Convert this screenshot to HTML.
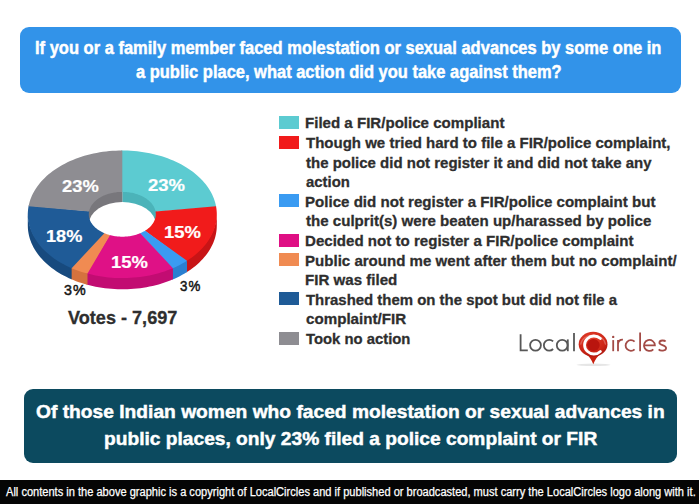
<!DOCTYPE html>
<html><head><meta charset="utf-8">
<style>
*{margin:0;padding:0;box-sizing:border-box}
html,body{width:699px;height:504px;overflow:hidden;background:#fff;font-family:"Liberation Sans",sans-serif}
.abs{position:absolute}
#hdr{position:absolute;left:20px;top:27.2px;width:661.3px;height:66px;background:#3293e9;border-radius:9px}
#ban{position:absolute;left:23.5px;top:388.5px;width:653.5px;height:74px;background:#0c4a5f;border-radius:9px}
#foot{position:absolute;left:0;top:480px;width:699px;height:24px;background:#050505}
.sw{position:absolute;left:278.5px;width:20.5px;height:13px}
.tx{position:absolute;white-space:nowrap;transform-origin:0 0}
.ht,.bt{-webkit-text-stroke:0.45px #fff}
.lg,.vt{-webkit-text-stroke:0.3px #2e2e2e}
.pl{-webkit-text-stroke:0.2px #fff}
.pd{-webkit-text-stroke:0.5px #151515;letter-spacing:1.2px}
.lo{-webkit-text-stroke:0px}
.ft{-webkit-text-stroke:0.25px #fff}
</style></head><body>
<div id="hdr"></div>
<svg class="abs" style="left:0;top:0" width="699" height="504" viewBox="0 0 699 504">
<path d="M216.80,212.80 L216.74,215.00 L216.57,217.20 L216.29,219.40 L215.90,221.59 L215.39,223.76 L214.78,225.93 L214.05,228.08 L213.21,230.21 L212.27,232.32 L211.22,234.40 L210.06,236.46 L208.80,238.50 L207.43,240.50 L205.96,242.47 L204.40,244.40 L202.73,246.29 L200.97,248.15 L199.11,249.96 L197.17,251.73 L195.13,253.45 L193.01,255.13 L190.80,256.75 L188.51,258.32 L186.14,259.84 L186.14,272.54 L188.51,271.02 L190.80,269.45 L193.01,267.83 L195.13,266.15 L197.17,264.43 L199.11,262.66 L200.97,260.85 L202.73,258.99 L204.40,257.10 L205.96,255.17 L207.43,253.20 L208.80,251.20 L210.06,249.16 L211.22,247.10 L212.27,245.02 L213.21,242.91 L214.05,240.78 L214.78,238.63 L215.39,236.46 L215.90,234.29 L216.29,232.10 L216.57,229.90 L216.74,227.70 L216.80,225.50Z" fill="#c81416"/>
<path d="M186.99,259.31 L184.65,260.74 L182.24,262.12 L179.76,263.45 L177.22,264.72 L174.62,265.93 L171.96,267.08 L171.96,279.78 L174.62,278.63 L177.22,277.42 L179.76,276.15 L182.24,274.82 L184.65,273.44 L186.99,272.01Z" fill="#2a7fd0"/>
<path d="M172.94,266.67 L170.19,267.80 L167.38,268.87 L164.52,269.88 L161.62,270.82 L158.66,271.69 L155.67,272.49 L152.64,273.22 L149.57,273.89 L146.47,274.48 L143.34,275.00 L140.19,275.45 L137.01,275.82 L133.82,276.12 L130.62,276.35 L127.40,276.51 L124.18,276.59 L120.96,276.59 L117.74,276.53 L114.53,276.38 L111.32,276.17 L108.13,275.88 L104.95,275.52 L101.79,275.08 L98.66,274.57 L95.56,273.99 L92.48,273.34 L89.44,272.62 L86.44,271.83 L86.44,284.53 L89.44,285.32 L92.48,286.04 L95.56,286.69 L98.66,287.27 L101.79,287.78 L104.95,288.22 L108.13,288.58 L111.32,288.87 L114.53,289.08 L117.74,289.23 L120.96,289.29 L124.18,289.29 L127.40,289.21 L130.62,289.05 L133.82,288.82 L137.01,288.52 L140.19,288.15 L143.34,287.70 L146.47,287.18 L149.57,286.59 L152.64,285.92 L155.67,285.19 L158.66,284.39 L161.62,283.52 L164.52,282.58 L167.38,281.57 L170.19,280.50 L172.94,279.37Z" fill="#c20c72"/>
<path d="M87.51,272.12 L84.59,271.30 L81.72,270.42 L78.88,269.47 L76.10,268.46 L73.37,267.38 L70.69,266.25 L70.69,278.95 L73.37,280.08 L76.10,281.16 L78.88,282.17 L81.72,283.12 L84.59,284.00 L87.51,284.82Z" fill="#d5723e"/>
<path d="M71.66,266.67 L68.93,265.45 L66.26,264.17 L63.66,262.83 L61.12,261.43 L58.66,259.97 L56.28,258.45 L53.98,256.88 L51.75,255.25 L49.62,253.57 L47.57,251.85 L45.61,250.08 L43.74,248.26 L41.97,246.40 L40.29,244.50 L38.71,242.56 L37.23,240.59 L35.86,238.58 L34.59,236.54 L33.42,234.48 L32.36,232.38 L31.41,230.27 L30.57,228.13 L29.84,225.97 L29.22,223.80 L28.71,221.62 L28.31,219.42 L28.03,217.22 L27.86,215.01 L27.80,212.80 L27.80,225.50 L27.86,227.71 L28.03,229.92 L28.31,232.12 L28.71,234.32 L29.22,236.50 L29.84,238.67 L30.57,240.83 L31.41,242.97 L32.36,245.08 L33.42,247.18 L34.59,249.24 L35.86,251.28 L37.23,253.29 L38.71,255.26 L40.29,257.20 L41.97,259.10 L43.74,260.96 L45.61,262.78 L47.57,264.55 L49.62,266.27 L51.75,267.95 L53.98,269.58 L56.28,271.15 L58.66,272.67 L61.12,274.13 L63.66,275.53 L66.26,276.87 L68.93,278.15 L71.66,279.37Z" fill="#174a7e"/>
<path d="M122.30,214.30 L122.30,190.40 L123.51,190.41 L124.71,190.46 L125.92,190.53 L127.12,190.63 L128.31,190.76 L129.50,190.91 L130.68,191.09 L131.84,191.31 L133.00,191.54 L134.14,191.81 L135.27,192.10 L136.39,192.42 L137.49,192.77 L138.57,193.14 L139.63,193.53 L140.66,193.95 L141.68,194.40 L142.68,194.87 L143.65,195.36 L144.59,195.87 L145.51,196.41 L146.40,196.97 L147.26,197.55 L148.09,198.14 L148.89,198.76 L149.66,199.40 L150.40,200.05 L151.10,200.72 L151.77,201.41 L152.41,202.11 L153.01,202.83 L153.57,203.56 L154.09,204.30 L154.58,205.06 L155.03,205.82 L155.43,206.60 L155.80,207.39 L156.13,208.18 L156.42,208.98 L156.67,209.79 L156.88,210.60 L157.04,211.42 L157.17,212.24 L157.25,213.06 L157.29,213.89 L157.29,214.71 L157.25,215.54 L157.17,216.36 L157.04,217.18 L156.88,218.00 L156.67,218.81 L156.42,219.62 L156.13,220.42 L155.80,221.21 L155.43,222.00 L155.03,222.78 L154.58,223.54 L154.09,224.30 L153.57,225.04 L153.01,225.77 L152.41,226.49 L151.77,227.19 L151.10,227.88 L150.40,228.55 L149.66,229.20 L148.89,229.84 L148.09,230.46 L147.26,231.05 L146.40,231.63 L145.51,232.19 L144.59,232.73 L143.65,233.24 L142.68,233.73 L141.68,234.20 L140.66,234.65 L139.63,235.07 L138.57,235.46 L137.49,235.83 L136.39,236.18 L135.27,236.50 L134.14,236.79 L133.00,237.06 L131.84,237.29 L130.68,237.51 L129.50,237.69 L128.31,237.84 L127.12,237.97 L125.92,238.07 L124.71,238.14 L123.51,238.19 L122.30,238.20Z" fill="#4bb3b9"/>
<path d="M122.30,214.30 L122.30,238.20 L121.09,238.19 L119.89,238.14 L118.68,238.07 L117.48,237.97 L116.29,237.84 L115.10,237.69 L113.92,237.51 L112.76,237.29 L111.60,237.06 L110.46,236.79 L109.33,236.50 L108.21,236.18 L107.11,235.83 L106.03,235.46 L104.97,235.07 L103.94,234.65 L102.92,234.20 L101.92,233.73 L100.95,233.24 L100.01,232.73 L99.09,232.19 L98.20,231.63 L97.34,231.05 L96.51,230.46 L95.71,229.84 L94.94,229.20 L94.20,228.55 L93.50,227.88 L92.83,227.19 L92.19,226.49 L91.59,225.77 L91.03,225.04 L90.51,224.30 L90.02,223.54 L89.57,222.78 L89.17,222.00 L88.80,221.21 L88.47,220.42 L88.18,219.62 L87.93,218.81 L87.72,218.00 L87.56,217.18 L87.43,216.36 L87.35,215.54 L87.31,214.71 L87.31,213.89 L87.35,213.06 L87.43,212.24 L87.56,211.42 L87.72,210.60 L87.93,209.79 L88.18,208.98 L88.47,208.18 L88.80,207.39 L89.17,206.60 L89.57,205.82 L90.02,205.06 L90.51,204.30 L91.03,203.56 L91.59,202.83 L92.19,202.11 L92.83,201.41 L93.50,200.72 L94.20,200.05 L94.94,199.40 L95.71,198.76 L96.51,198.14 L97.34,197.55 L98.20,196.97 L99.09,196.41 L100.01,195.87 L100.95,195.36 L101.92,194.87 L102.92,194.40 L103.94,193.95 L104.97,193.53 L106.03,193.14 L107.11,192.77 L108.21,192.42 L109.33,192.10 L110.46,191.81 L111.60,191.54 L112.76,191.31 L113.92,191.09 L115.10,190.91 L116.29,190.76 L117.48,190.63 L118.68,190.53 L119.89,190.46 L121.09,190.41 L122.30,190.40Z" fill="#78777c"/>
<ellipse cx="122.30" cy="224.40" rx="33.50" ry="22.40" fill="#fff"/>
<path d="M121.15,150.50 L124.37,150.52 L127.60,150.60 L130.82,150.76 L134.03,150.99 L137.23,151.30 L140.41,151.68 L143.57,152.14 L146.70,152.66 L149.81,153.26 L152.88,153.93 L155.92,154.67 L158.92,155.48 L161.87,156.36 L164.78,157.31 L167.64,158.32 L170.45,159.40 L173.20,160.54 L175.89,161.75 L178.52,163.02 L181.08,164.34 L183.57,165.73 L186.00,167.17 L188.34,168.67 L190.62,170.22 L192.81,171.82 L194.92,173.47 L196.94,175.17 L198.88,176.91 L200.72,178.70 L202.48,180.53 L204.14,182.40 L205.71,184.31 L207.18,186.25 L208.55,188.22 L209.82,190.23 L210.98,192.26 L212.05,194.32 L213.01,196.40 L213.86,198.51 L214.60,200.63 L215.24,202.77 L215.77,204.92 L216.19,207.08 L155.58,211.76 L155.44,211.01 L155.25,210.25 L155.02,209.50 L154.76,208.75 L154.46,208.02 L154.12,207.29 L153.74,206.56 L153.32,205.85 L152.87,205.15 L152.39,204.45 L151.87,203.77 L151.31,203.10 L150.72,202.44 L150.10,201.80 L149.45,201.17 L148.76,200.56 L148.04,199.97 L147.29,199.39 L146.52,198.82 L145.71,198.28 L144.88,197.75 L144.02,197.25 L143.14,196.76 L142.23,196.29 L141.30,195.85 L140.34,195.43 L139.37,195.03 L138.37,194.65 L137.36,194.29 L136.33,193.96 L135.28,193.65 L134.22,193.37 L133.14,193.11 L132.05,192.87 L130.95,192.66 L129.84,192.47 L128.72,192.32 L127.59,192.18 L126.46,192.07 L125.32,191.99 L124.18,191.94 L123.04,191.91 L121.89,191.90Z" fill="#5ccbd1"/>
<path d="M216.05,206.30 L216.40,208.47 L216.64,210.64 L216.77,212.81 L216.79,214.98 L216.71,217.16 L216.51,219.33 L216.20,221.49 L215.78,223.65 L215.25,225.80 L214.62,227.93 L213.88,230.05 L213.03,232.15 L212.07,234.22 L211.02,236.28 L209.85,238.31 L208.59,240.31 L207.23,242.28 L205.77,244.22 L204.21,246.12 L202.55,247.99 L200.81,249.81 L198.97,251.60 L197.04,253.34 L195.02,255.04 L192.92,256.69 L190.74,258.29 L188.48,259.84 L186.14,261.34 L144.93,230.82 L145.76,230.29 L146.56,229.75 L147.34,229.18 L148.08,228.60 L148.79,228.01 L149.48,227.40 L150.13,226.77 L150.75,226.13 L151.34,225.47 L151.89,224.80 L152.41,224.12 L152.89,223.43 L153.34,222.73 L153.75,222.02 L154.12,221.29 L154.46,220.57 L154.76,219.83 L155.03,219.09 L155.25,218.34 L155.44,217.58 L155.59,216.83 L155.70,216.07 L155.77,215.30 L155.80,214.54 L155.79,213.78 L155.74,213.01 L155.66,212.25 L155.54,211.49Z" fill="#f11b1b"/>
<path d="M186.99,260.81 L184.65,262.24 L182.24,263.62 L179.76,264.95 L177.22,266.22 L174.62,267.43 L171.96,268.58 L139.90,233.36 L140.85,232.95 L141.77,232.53 L142.67,232.08 L143.55,231.62 L144.40,231.13 L145.23,230.63Z" fill="#3a9bf2"/>
<path d="M172.94,268.17 L170.19,269.30 L167.38,270.37 L164.52,271.38 L161.62,272.32 L158.66,273.19 L155.67,273.99 L152.64,274.72 L149.57,275.39 L146.47,275.98 L143.34,276.50 L140.19,276.95 L137.01,277.32 L133.82,277.62 L130.62,277.85 L127.40,278.01 L124.18,278.09 L120.96,278.09 L117.74,278.03 L114.53,277.88 L111.32,277.67 L108.13,277.38 L104.95,277.02 L101.79,276.58 L98.66,276.07 L95.56,275.49 L92.48,274.84 L89.44,274.12 L86.44,273.33 L109.59,235.02 L110.65,235.30 L111.73,235.56 L112.82,235.78 L113.92,235.99 L115.03,236.17 L116.15,236.32 L117.28,236.45 L118.41,236.55 L119.54,236.62 L120.68,236.67 L121.83,236.70 L122.97,236.70 L124.11,236.67 L125.25,236.61 L126.38,236.53 L127.52,236.43 L128.64,236.30 L129.76,236.14 L130.87,235.96 L131.97,235.75 L133.05,235.51 L134.13,235.26 L135.19,234.98 L136.24,234.67 L137.27,234.34 L138.28,233.99 L139.28,233.61 L140.25,233.21Z" fill="#df1186"/>
<path d="M87.51,273.62 L84.59,272.80 L81.72,271.92 L78.88,270.97 L76.10,269.96 L73.37,268.88 L70.69,267.75 L104.01,233.06 L104.95,233.46 L105.92,233.84 L106.91,234.20 L107.91,234.53 L108.93,234.84 L109.97,235.13Z" fill="#f08b52"/>
<path d="M71.66,268.17 L68.93,266.95 L66.26,265.67 L63.66,264.33 L61.13,262.93 L58.67,261.47 L56.29,259.95 L53.99,258.38 L51.77,256.76 L49.63,255.08 L47.58,253.36 L45.62,251.59 L43.76,249.77 L41.98,247.92 L40.31,246.02 L38.73,244.08 L37.25,242.11 L35.87,240.10 L34.60,238.07 L33.44,236.00 L32.38,233.91 L31.42,231.80 L30.58,229.66 L29.85,227.51 L29.23,225.34 L28.71,223.16 L28.32,220.96 L28.03,218.76 L27.86,216.55 L27.80,214.34 L27.85,212.13 L28.02,209.93 L28.30,207.73 L28.70,205.53 L89.12,211.22 L88.98,211.99 L88.88,212.76 L88.82,213.54 L88.80,214.32 L88.82,215.09 L88.88,215.87 L88.98,216.64 L89.12,217.41 L89.31,218.18 L89.53,218.94 L89.79,219.69 L90.08,220.44 L90.42,221.19 L90.80,221.92 L91.21,222.65 L91.66,223.36 L92.15,224.06 L92.67,224.76 L93.23,225.44 L93.83,226.10 L94.46,226.76 L95.12,227.39 L95.81,228.01 L96.54,228.62 L97.30,229.21 L98.08,229.78 L98.90,230.33 L99.74,230.86 L100.61,231.37 L101.51,231.87 L102.43,232.34 L103.38,232.79 L104.35,233.21Z" fill="#1f5b97"/>
<path d="M28.55,206.30 L29.01,204.13 L29.58,201.97 L30.26,199.82 L31.06,197.70 L31.96,195.59 L32.96,193.50 L34.08,191.44 L35.29,189.40 L36.61,187.39 L38.04,185.42 L39.56,183.48 L41.18,181.58 L42.89,179.71 L44.70,177.89 L46.60,176.11 L48.59,174.37 L50.67,172.68 L52.83,171.05 L55.08,169.46 L57.40,167.92 L59.81,166.44 L62.28,165.02 L64.83,163.66 L67.44,162.35 L70.12,161.11 L72.86,159.93 L75.66,158.81 L78.52,157.76 L81.43,156.78 L84.38,155.86 L87.38,155.02 L90.42,154.24 L93.50,153.53 L96.61,152.90 L99.76,152.34 L102.93,151.85 L106.12,151.44 L109.33,151.10 L112.56,150.84 L115.80,150.65 L119.05,150.54 L122.30,150.50 L122.30,191.90 L121.15,191.91 L120.00,191.95 L118.85,192.02 L117.70,192.11 L116.57,192.23 L115.43,192.38 L114.31,192.55 L113.19,192.74 L112.09,192.97 L111.00,193.21 L109.92,193.49 L108.86,193.78 L107.81,194.10 L106.78,194.45 L105.77,194.82 L104.77,195.21 L103.80,195.62 L102.85,196.06 L101.93,196.52 L101.02,197.00 L100.15,197.50 L99.29,198.02 L98.47,198.56 L97.67,199.11 L96.91,199.69 L96.17,200.28 L95.47,200.89 L94.79,201.52 L94.15,202.16 L93.54,202.81 L92.97,203.48 L92.43,204.16 L91.92,204.85 L91.46,205.56 L91.03,206.27 L90.63,207.00 L90.27,207.73 L89.95,208.47 L89.67,209.22 L89.43,209.97 L89.23,210.73 L89.06,211.49Z" fill="#8e8d92"/>
</svg>
<div class="sw" style="top:116.0px;background:#5ccbd1"></div>
<div class="sw" style="top:135.6px;background:#f11b1b"></div>
<div class="sw" style="top:194.4px;background:#3a9bf2"></div>
<div class="sw" style="top:233.6px;background:#df0f84"></div>
<div class="sw" style="top:253.2px;background:#f08b52"></div>
<div class="sw" style="top:292.4px;background:#1f5b97"></div>
<div class="sw" style="top:331.6px;background:#8e8d92"></div>
<svg class="abs" style="left:0;top:0" width="699" height="504" viewBox="0 0 699 504">
<defs>
<radialGradient id="pg" cx="0.42" cy="0.3" r="0.75"><stop offset="0" stop-color="#e5402c"/><stop offset="0.7" stop-color="#cc2516"/><stop offset="1" stop-color="#a8160e"/></radialGradient>
</defs>
<g fill="none" stroke="#575757" stroke-width="1.8">
<path d="M520.6,334.3 V350.3 H527.8"/>
<circle cx="535.5" cy="345.2" r="5.4"/>
<path d="M553.1,341.4 A5.4,5.4 0 1 0 553.1,349.0"/>
<circle cx="562.2" cy="345.2" r="5.4"/>
<path d="M567.8,339.4 V351.2"/>
<path d="M574,333.1 V351.2"/>
</g>
<g fill="none" stroke="#a34b46" stroke-width="1.8">
<path d="M613.2,340.1 V351.2"/>
<path d="M618,340 V351.2 M618,344.2 C618.3,341 620,339.6 622.9,339.7"/>
<path d="M634.6,341.7 A5.3,5.3 0 1 0 634.6,349.3"/>
<path d="M640.1,332.6 V351.2"/>
<path d="M643.9,345.4 H654.9 A5.45,5.45 0 1 0 653.3,349.3"/>
<path d="M665.6,341.6 C664.6,340.2 659.6,339.7 659.4,342.7 C659.3,345.2 666.1,344.9 666.1,348.0 C666.1,351.1 660.4,351.4 658.7,349.4"/>
</g>
<circle cx="613.2" cy="336.9" r="1.2" fill="#a34b46"/>
<ellipse cx="593.5" cy="364.8" rx="17" ry="1.3" fill="#d6d6d6" opacity="0.6"/>
<path d="M585.5,353.5 Q590.5,357 593.3,364.3 Q596.1,357 601.1,353.5 Z" fill="#c9200f"/>
<ellipse cx="593.1" cy="344.2" rx="14.4" ry="12.4" fill="url(#pg)"/>
<path d="M580.6,344.6 A12.6,11.0 0 0 1 605.6,344.6" fill="none" stroke="#f09890" stroke-width="1.2" opacity="0.5"/>
<path d="M 600.4,338.6 A 9.3 9.0 0 1 0 600.4,351.4" fill="none" stroke="#fff" stroke-width="2.8" stroke-linecap="round"/>
<ellipse cx="593.4" cy="345" rx="6.3" ry="6.0" fill="#b9150e"/>
</svg>
<div id="ban"></div>
<div id="foot"></div>
<div class="tx ht" id="h1" style="left:35.00px;top:40.44px;font-size:17.5px;line-height:17.5px;color:#fff;font-weight:bold;transform:scaleX(0.9430)">If you or a family member faced molestation or sexual advances by some one in</div>
<div class="tx ht" id="h2" style="left:136.00px;top:64.04px;font-size:17.5px;line-height:17.5px;color:#fff;font-weight:bold;transform:scaleX(0.9414)">a public place, what action did you take against them?</div>
<div class="tx bt" id="b1" style="left:36.00px;top:403.39px;font-size:18.5px;line-height:18.5px;color:#fff;font-weight:bold;transform:scaleX(1.0383)">Of those Indian women who faced molestation or sexual advances in</div>
<div class="tx bt" id="b2" style="left:103.50px;top:429.79px;font-size:18.5px;line-height:18.5px;color:#fff;font-weight:bold;transform:scaleX(1.0363)">public places, only 23% filed a police complaint or FIR</div>
<div class="tx ft" id="f1" style="left:6.00px;top:486.30px;font-size:12px;line-height:12px;color:#fff;font-weight:normal;transform:scaleX(0.9224)">All contents in the above graphic is a copyright of LocalCircles and if published or broadcasted, must carry the LocalCircles logo along with it.</div>
<div class="tx vt" id="votes" style="left:68.00px;top:309.12px;font-size:18px;line-height:18px;color:#2e2e2e;font-weight:bold;transform:scaleX(1.0057)">Votes - 7,697</div>
<div class="tx pl" id="p1" style="left:148.00px;top:176.63px;font-size:16.5px;line-height:16.5px;color:#fff;font-weight:bold;transform:scaleX(1.1211)">23%</div>
<div class="tx pl" id="p2" style="left:62.00px;top:177.81px;font-size:16.5px;line-height:16.5px;color:#fff;font-weight:bold;transform:scaleX(1.1114)">23%</div>
<div class="tx pl" id="p3" style="left:46.00px;top:227.82px;font-size:16.5px;line-height:16.5px;color:#fff;font-weight:bold;transform:scaleX(1.1000)">18%</div>
<div class="tx pl" id="p4" style="left:164.00px;top:223.93px;font-size:16.5px;line-height:16.5px;color:#fff;font-weight:bold;transform:scaleX(1.1173)">15%</div>
<div class="tx pl" id="p5" style="left:111.00px;top:253.63px;font-size:16.5px;line-height:16.5px;color:#fff;font-weight:bold;transform:scaleX(1.1163)">15%</div>
<div class="tx pd" id="p6" style="left:64.00px;top:281.93px;font-size:15px;line-height:15px;color:#151515;font-weight:normal;transform:scaleX(0.9492)">3%</div>
<div class="tx pd" id="p7" style="left:180.00px;top:277.96px;font-size:15px;line-height:15px;color:#151515;font-weight:normal;transform:scaleX(0.8871)">3%</div>
<div class="tx lg" id="l0" style="left:305.00px;top:115.41px;font-size:15.5px;line-height:15.5px;color:#2e2e2e;font-weight:bold;transform:scaleX(0.9728)">Filed a FIR/police compliant</div>
<div class="tx lg" id="l1" style="left:306.00px;top:135.01px;font-size:15.5px;line-height:15.5px;color:#2e2e2e;font-weight:bold;transform:scaleX(0.9685)">Though we tried hard to file a FIR/police complaint,</div>
<div class="tx lg" id="l2" style="left:306.00px;top:154.61px;font-size:15.5px;line-height:15.5px;color:#2e2e2e;font-weight:bold;transform:scaleX(0.9670)">the police did not register it and did not take any</div>
<div class="tx lg" id="l3" style="left:306.00px;top:174.21px;font-size:15.5px;line-height:15.5px;color:#2e2e2e;font-weight:bold;transform:scaleX(0.9602)">action</div>
<div class="tx lg" id="l4" style="left:305.00px;top:193.81px;font-size:15.5px;line-height:15.5px;color:#2e2e2e;font-weight:bold;transform:scaleX(0.9734)">Police did not register a FIR/police complaint but</div>
<div class="tx lg" id="l5" style="left:306.00px;top:213.41px;font-size:15.5px;line-height:15.5px;color:#2e2e2e;font-weight:bold;transform:scaleX(0.9731)">the culprit(s) were beaten up/harassed by police</div>
<div class="tx lg" id="l6" style="left:305.00px;top:233.01px;font-size:15.5px;line-height:15.5px;color:#2e2e2e;font-weight:bold;transform:scaleX(0.9729)">Decided not to register a FIR/police complaint</div>
<div class="tx lg" id="l7" style="left:305.00px;top:252.61px;font-size:15.5px;line-height:15.5px;color:#2e2e2e;font-weight:bold;transform:scaleX(0.9718)">Public around me went after them but no complaint/</div>
<div class="tx lg" id="l8" style="left:305.00px;top:272.21px;font-size:15.5px;line-height:15.5px;color:#2e2e2e;font-weight:bold;transform:scaleX(0.9747)">FIR was filed</div>
<div class="tx lg" id="l9" style="left:306.00px;top:291.81px;font-size:15.5px;line-height:15.5px;color:#2e2e2e;font-weight:bold;transform:scaleX(0.9634)">Thrashed them on the spot but did not file a</div>
<div class="tx lg" id="l10" style="left:306.00px;top:311.41px;font-size:15.5px;line-height:15.5px;color:#2e2e2e;font-weight:bold;transform:scaleX(0.9771)">complaint/FIR</div>
<div class="tx lg" id="l11" style="left:306.00px;top:331.01px;font-size:15.5px;line-height:15.5px;color:#2e2e2e;font-weight:bold;transform:scaleX(0.9573)">Took no action</div>
</body></html>
